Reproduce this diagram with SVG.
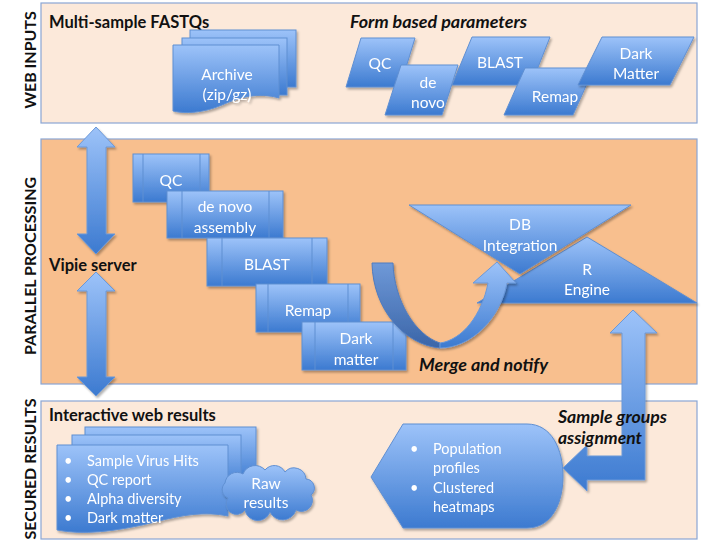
<svg xmlns="http://www.w3.org/2000/svg" width="720" height="540" viewBox="0 0 720 540">
<style>
.pl{fill:#fce9da;stroke:#8aa6d4;stroke-width:1.2}
.pm{fill:#f8bf8e;stroke:#8aa6d4;stroke-width:1.2}
.bl{fill:url(#g);stroke:#5f8fd2;stroke-width:1}
.ar{fill:url(#g);stroke:#6b98d8;stroke-width:1}
.ln{stroke:#5f8fd2;stroke-width:1;fill:none}
.w{font-family:Lato,"Liberation Sans",sans-serif;font-size:15.5px;fill:#fff;text-anchor:middle}
.wl{font-family:Lato,"Liberation Sans",sans-serif;font-size:14.5px;fill:#fff}
.h{font-family:Lato,"Liberation Sans",sans-serif;font-size:16.5px;font-weight:bold;fill:#111}
.hi{font-family:Lato,"Liberation Sans",sans-serif;font-size:16.5px;font-weight:bold;font-style:italic;fill:#111}
.side{font-family:Lato,"Liberation Sans",sans-serif;font-size:16px;font-weight:bold;fill:#111;text-anchor:middle}
</style>
<defs>
<linearGradient id="g" x1="0" y1="0" x2="0" y2="1">
<stop offset="0" stop-color="#9dc3f9"/>
<stop offset="1" stop-color="#3c7ad0"/>
</linearGradient>
<linearGradient id="gd" x1="0" y1="0" x2="0" y2="1">
<stop offset="0" stop-color="#6f99d8"/>
<stop offset="1" stop-color="#3a65a8"/>
</linearGradient>
<filter id="sh" x="-10%" y="-10%" width="130%" height="130%">
<feDropShadow dx="1.5" dy="2" stdDeviation="1.2" flood-color="#000" flood-opacity="0.3"/>
</filter>
</defs>

<!-- panels -->
<g id="panel-web">
<rect class="pl" x="41" y="3" width="656" height="120"/>
<text class="side" transform="translate(36,60) rotate(-90)">WEB INPUTS</text>
</g>
<g id="panel-parallel">
<rect class="pm" x="41" y="139" width="656" height="245"/>
<text class="side" transform="translate(36,266) rotate(-90)">PARALLEL PROCESSING</text>
</g>
<g id="panel-secured">
<rect class="pl" x="41" y="401" width="656" height="138"/>
<text class="side" transform="translate(36,469) rotate(-90)">SECURED RESULTS</text>
</g>

<text class="h" x="49" y="28">Multi-sample FASTQs</text>
<text class="hi" x="350" y="28" textLength="177" lengthAdjust="spacingAndGlyphs">Form based parameters</text>
<text class="h" x="49" y="271">Vipie server</text>
<text class="h" x="49" y="421">Interactive web results</text>

<!-- archive -->
<g id="archive" filter="url(#sh)">
<rect class="bl" x="190" y="30" width="106" height="57"/>
<rect class="bl" x="182" y="38" width="105" height="57"/>
<path class="bl" d="M173,45 L279,45 L279,98 C258,92 240,97 222,105 C203,113 186,114 173,111 Z"/>
<text class="w" x="227" y="80">Archive</text>
<text class="w" x="227" y="100">(zip/gz)</text>
</g>

<!-- form parameters -->
<g id="p-qc" filter="url(#sh)">
<polygon class="bl" points="361,38 415,38 400,87 346,87"/>
<text class="w" x="380" y="69">QC</text>
</g>
<g id="p-denovo" filter="url(#sh)">
<polygon class="bl" points="401,65 458,65 442,115 385,115"/>
<text class="w" x="428" y="88">de</text>
<text class="w" x="428" y="108">novo</text>
</g>
<g id="p-blast" filter="url(#sh)">
<polygon class="bl" points="472,37 550,37 531,85 452,85"/>
<text class="w" x="500" y="68">BLAST</text>
</g>
<g id="p-remap" filter="url(#sh)">
<polygon class="bl" points="525,68 594,68 573,115 504,115"/>
<text class="w" x="555" y="102">Remap</text>
</g>
<g id="p-dark" filter="url(#sh)">
<polygon class="bl" points="602,37 694,37 670,85 578,85"/>
<text class="w" x="636" y="59">Dark</text>
<text class="w" x="636" y="79">Matter</text>
</g>

<!-- process boxes -->
<g id="s-qc" filter="url(#sh)">
<rect class="bl" x="133" y="154" width="76" height="48"/>
<path class="ln" d="M143,154 V202 M200,154 V202"/>
<text class="w" x="171" y="186">QC</text>
</g>
<g id="s-denovo" filter="url(#sh)">
<rect class="bl" x="167" y="191" width="116" height="47"/>
<path class="ln" d="M182,191 V238 M269,191 V238"/>
<text class="w" x="225" y="212">de novo</text>
<text class="w" x="225" y="233">assembly</text>
</g>
<g id="s-blast" filter="url(#sh)">
<rect class="bl" x="207" y="238" width="120" height="48"/>
<path class="ln" d="M222,238 V286 M312,238 V286"/>
<text class="w" x="267" y="270">BLAST</text>
</g>
<g id="s-remap" filter="url(#sh)">
<rect class="bl" x="256" y="284" width="104" height="48"/>
<path class="ln" d="M268,284 V332 M348,284 V332"/>
<text class="w" x="308" y="316">Remap</text>
</g>
<g id="s-dark" filter="url(#sh)">
<rect class="bl" x="302" y="322" width="104" height="48"/>
<path class="ln" d="M315,322 V370 M393,322 V370"/>
<text class="w" x="356" y="344">Dark</text>
<text class="w" x="356" y="365">matter</text>
</g>

<!-- triangles -->
<g id="r-engine" filter="url(#sh)">
<polygon class="bl" points="587,237 697,303 477,303"/>
<text class="w" x="587" y="275">R</text>
<text class="w" x="587" y="295">Engine</text>
</g>
<g id="db-integration" filter="url(#sh)">
<polygon class="bl" points="409,205 631,205 520,274"/>
<text class="w" x="520" y="230">DB</text>
<text class="w" x="520" y="251">Integration</text>
</g>

<!-- cloud and results -->
<g id="web-results" filter="url(#sh)">
<rect class="bl" x="85" y="427" width="171" height="55"/>
<rect class="bl" x="72" y="435" width="169" height="55"/>
<path class="bl" d="M57,445 L228,445 L228,516 C205,511 182,515 155,522 C115,532 82,535 57,530 Z"/>
<text class="wl" x="64" y="466">•</text>
<text class="wl" x="87" y="466">Sample Virus Hits</text>
<text class="wl" x="64" y="485">•</text>
<text class="wl" x="87" y="485">QC report</text>
<text class="wl" x="64" y="504">•</text>
<text class="wl" x="87" y="504">Alpha diversity</text>
<text class="wl" x="64" y="523">•</text>
<text class="wl" x="87" y="523">Dark matter</text>
</g>
<g id="raw-results" filter="url(#sh)">
<path class="bl" d="M228,498 A9,9 0 0 1 225,483 A12,12 0 0 1 243,474 A13,13 0 0 1 265,470 A12,12 0 0 1 285,472 A12,12 0 0 1 306,479 A9,9 0 0 1 311,495 A11,11 0 0 1 296,510 A14,14 0 0 1 270,512 A13,13 0 0 1 245,510 A10,10 0 0 1 228,498 Z"/>
<text class="w" x="266" y="489">Raw</text>
<text class="w" x="266" y="508">results</text>
</g>
<g id="population" filter="url(#sh)">
<path class="bl" d="M371,477 L403,424 L527,424 C552,424 563,450 563,476 C563,503 552,528 527,528 L403,528 Z"/>
<text class="wl" x="410" y="454">•</text>
<text class="wl" x="433" y="454">Population</text>
<text class="wl" x="433" y="473">profiles</text>
<text class="wl" x="410" y="493">•</text>
<text class="wl" x="433" y="493">Clustered</text>
<text class="wl" x="433" y="512">heatmaps</text>
</g>

<!-- connectors -->
<g id="connectors" filter="url(#sh)">
<path class="ar" d="M96,127 L115,147 L106,147 L106,234 L115,234 L96,254 L77,234 L87,234 L87,147 L77,147 Z"/>
<path class="ar" d="M96,272 L115,291 L106,291 L106,377 L115,377 L96,396 L77,377 L87,377 L87,291 L77,291 Z"/>
<path fill="url(#gd)" stroke="#4f7cc0" stroke-width="1" d="M372,263 L393,263 C394,300 415,335 440,343 L440,348 C405,345 373,310 372,263 Z"/>
<path class="ar" d="M440,348 C470,348 500,320 507,283 L516,283 L497,262 L473,283 L488,283 C482,315 462,340 440,343 Z"/>
<path class="ar" d="M633,310 L657,333 L645,333 L645,480 L587,480 L587,491 L563,468 L587,445 L587,456 L622,456 L622,333 L610,333 Z"/>
</g>
<text class="hi" x="419" y="371" textLength="129" lengthAdjust="spacingAndGlyphs">Merge and notify</text>
<text class="hi" x="558" y="423" textLength="109" lengthAdjust="spacingAndGlyphs">Sample groups</text>
<text class="hi" x="558" y="444" textLength="84" lengthAdjust="spacingAndGlyphs">assignment</text>
</svg>
